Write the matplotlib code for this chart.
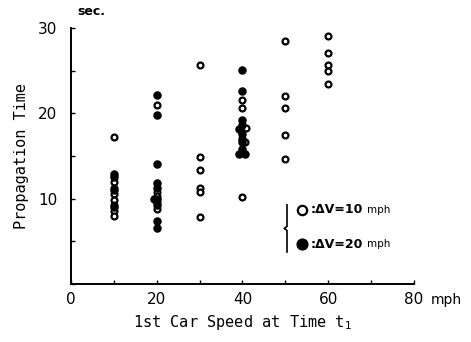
import matplotlib
matplotlib.use("Agg")
import matplotlib.pyplot as plt

# Open circles: dV = 10 mph
open_x = [10, 10, 10, 10, 10, 10, 10, 10,
          20, 20, 20, 20, 20,
          30, 30, 30, 30, 30, 30,
          40, 40, 40.8, 40.6, 40,
          50, 50, 50, 50, 50,
          60, 60, 60, 60, 60]
open_y = [17.2, 12.0, 11.3, 10.5, 9.8, 9.3, 8.6, 8.0,
          21.0, 10.8, 10.3, 9.6, 8.8,
          25.6, 14.9, 13.4, 11.3, 10.8, 7.9,
          21.5, 20.6, 18.3, 16.6, 10.2,
          28.5, 22.0, 20.6, 17.5, 14.6,
          29.0, 27.0, 25.7, 25.0, 23.4]

# Filled circles: dV = 20 mph
fill_x = [10, 10, 10, 10,
          20, 20, 20, 20, 20, 19.3, 20, 20, 20, 20,
          40, 40, 40, 40, 39.3, 40, 40, 40, 40, 39.3, 40.7]
fill_y = [12.9, 12.5, 11.0, 9.0,
          22.1, 19.8, 14.1, 11.8, 11.2, 10.0, 9.9, 9.2, 7.4, 6.5,
          25.1, 22.6, 19.2, 18.6, 18.2, 17.6, 17.0, 16.6, 15.8, 15.2, 15.2]

x_ticks = [0, 20, 40, 60, 80]
y_ticks = [10, 20, 30]

fig = plt.figure(figsize=(4.71, 3.42), dpi=100)
ax = fig.add_axes([0.1507, 0.1696, 0.728, 0.749])

ax.scatter(open_x, open_y, s=18, facecolors="white", edgecolors="black",
           linewidths=1.6, zorder=3)
ax.scatter(fill_x, fill_y, s=26, color="black", zorder=4)

ax.set_xlim(0, 80)
ax.set_ylim(0, 30)
for side in ("top", "right"):
    ax.spines[side].set_visible(False)
for side in ("left", "bottom"):
    ax.spines[side].set_linewidth(1.4)

ax.set_xticks(range(0, 81, 10), minor=True)
ax.set_yticks(range(0, 31, 5), minor=True)
ax.set_xticks(x_ticks)
ax.set_yticks(y_ticks)
ax.tick_params(which="both", direction="in", length=3, width=1, labelsize=11)
ax.tick_params(axis="x", pad=6)
ax.tick_params(axis="y", pad=10)

ax.set_xlabel("1st Car Speed at Time t$_1$", family="DejaVu Sans Mono",
              fontsize=11, labelpad=4)
ax.set_ylabel("Propagation Time", family="DejaVu Sans Mono", fontsize=11,
              labelpad=6)

ax.text(1.05, -0.035, "mph", transform=ax.transAxes, fontsize=10,
        va="top", ha="left")
ax.text(0.02, 1.04, "sec.", transform=ax.transAxes, fontsize=9,
        weight="bold", va="bottom", ha="left")

# legend: brace line, markers and labels
ax.plot([0.63, 0.63, 0.622, 0.63, 0.63], [0.309, 0.225, 0.217, 0.209, 0.125],
        transform=ax.transAxes, color="black", lw=1.2, clip_on=False)
ax.scatter([0.673], [0.289], s=45, facecolors="white", edgecolors="black",
           linewidths=1.6, transform=ax.transAxes, clip_on=False)
ax.scatter([0.673], [0.156], s=60, color="black", transform=ax.transAxes,
           clip_on=False)
ax.text(0.698, 0.289, ":\u0394V=10", transform=ax.transAxes, fontsize=9,
        weight="bold", va="center", ha="left")
ax.text(0.698, 0.156, ":\u0394V=20", transform=ax.transAxes, fontsize=9,
        weight="bold", va="center", ha="left")
ax.text(0.862, 0.289, "mph", transform=ax.transAxes, fontsize=7.5,
        va="center", ha="left")
ax.text(0.862, 0.156, "mph", transform=ax.transAxes, fontsize=7.5,
        va="center", ha="left")

fig.savefig("out.png", dpi=100)
